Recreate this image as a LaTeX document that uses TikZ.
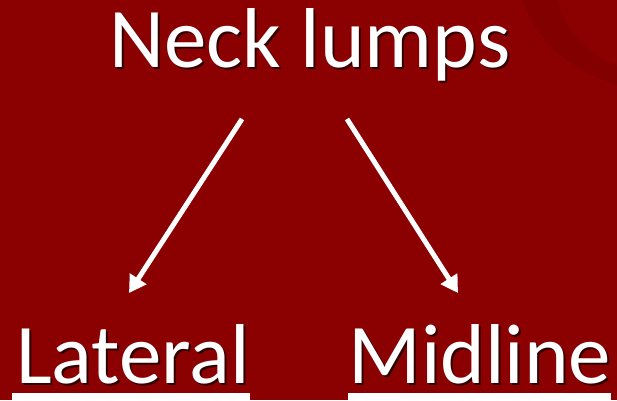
\documentclass[tikz,border=0pt]{standalone}
\usepackage{fontspec}
\setmainfont{Carlito}
\usepackage{xcolor}
\usetikzlibrary{arrows.meta,positioning}
\definecolor{nlRed}{HTML}{8B0000}
\definecolor{nlDark}{HTML}{820000}
\tikzset{
  slidetext/.style={text=white,font=\fontsize{85}{92}\selectfont,inner sep=0pt,anchor=base},
  shadowtext/.style={slidetext,text=black,opacity=0.65},
  bigarrow/.style={white,line width=5pt,-{Triangle[length=17pt,width=19pt]}}
}
\begin{document}
\begin{tikzpicture}[x=1pt,y=1pt]
  % background and corner swirl
  \fill[nlRed] (0,0) rectangle (617,400);
  \useasboundingbox (0,0) rectangle (617,400);
  \fill[nlDark] (523,400)..controls(535,360)and(570,330)..(617,315)
    --(617,335)..controls(585,345)and(562,375)..(558,400)--cycle;
  % text shadows
  \node[shadowtext] at (312,331) {Neck lumps};
  \node[shadowtext] at (135,15) {Lateral};
  \node[shadowtext] at (482,15) {Midline};
  % labels
  \node[slidetext] (neck) at (310,333) {Neck lumps};
  \node[slidetext] (lateral) at (133,17) {Lateral};
  \node[slidetext] (midline) at (480,17) {Midline};
  % arrow ends
  \coordinate (neckL) at (242,281);
  \coordinate (neckR) at (347,281);
  \coordinate (lateralTop) at (129,107);
  \coordinate (midlineTop) at (458,107);
  \draw[bigarrow] (neckL) -- (lateralTop);
  \draw[bigarrow] (neckR) -- (midlineTop);
  % underline bars
  \fill[white] (12,0) rectangle (250,7);
  \fill[white] (348,0) rectangle (611,7);
\end{tikzpicture}
\end{document}
